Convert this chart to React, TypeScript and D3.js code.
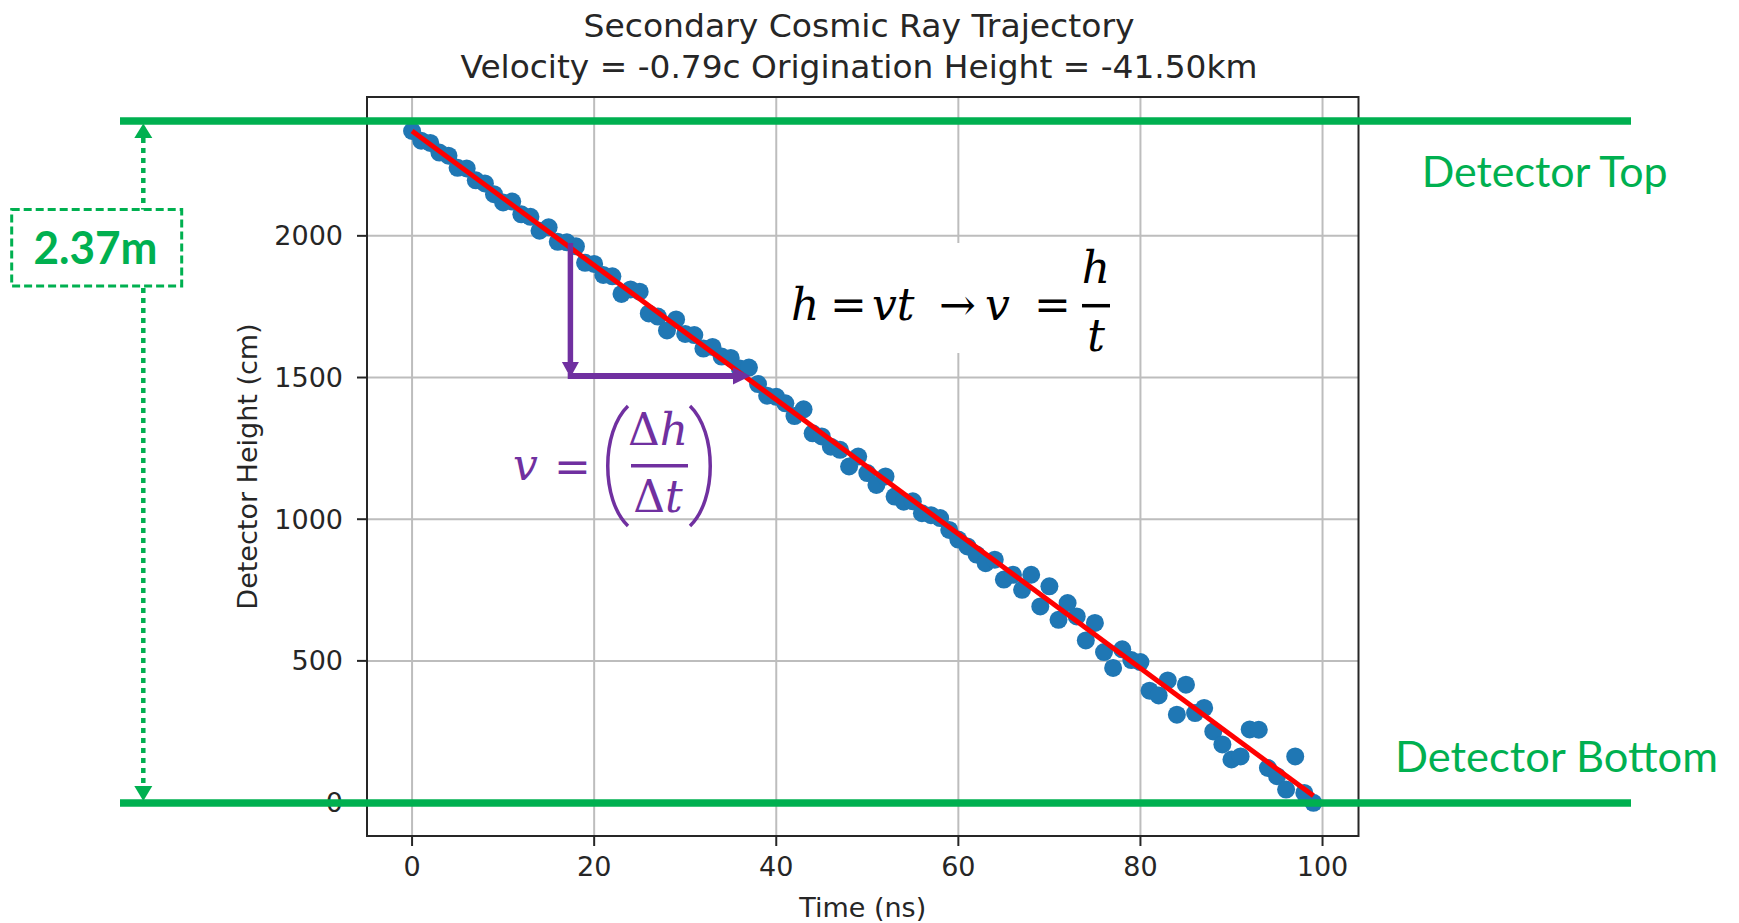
import React from 'react';
import * as d3 from 'd3';

// ---- data ----
const times: number[] = [
  0, 1, 2, 3, 4, 5, 6, 7, 8, 9, 10, 11, 12, 13, 14, 15, 16, 17, 18, 19,
  20, 21, 22, 23, 24, 25, 26, 27, 28, 29, 30, 31, 32, 33, 34, 35, 36, 37, 38, 39,
  40, 41, 42, 43, 44, 45, 46, 47, 48, 49, 50, 51, 52, 53, 54, 55, 56, 57, 58, 59,
  60, 61, 62, 63, 64, 65, 66, 67, 68, 69, 70, 71, 72, 73, 74, 75, 76, 77, 78, 79,
  80, 81, 82, 83, 84, 85, 86, 87, 88, 89, 90, 91, 92, 93, 94, 95, 96, 97, 98, 99,
];
const heights: number[] = [
  2370, 2336, 2328, 2294, 2283, 2240, 2238, 2196, 2185, 2147,
  2118, 2121, 2076, 2067, 2018, 2030, 1979, 1977, 1963, 1905,
  1901, 1862, 1857, 1795, 1811, 1803, 1726, 1715, 1666, 1705,
  1654, 1650, 1602, 1608, 1574, 1569, 1532, 1535, 1477, 1436,
  1432, 1409, 1364, 1388, 1303, 1292, 1256, 1245, 1186, 1221,
  1163, 1121, 1151, 1080, 1062, 1063, 1021, 1014, 1004, 962,
  928, 904, 875, 845, 857, 787, 804, 751, 804, 692,
  763, 645, 704, 657, 572, 634, 531, 475, 541, 503,
  496, 395, 378, 431, 310, 416, 316, 334, 251, 205,
  152, 163, 258, 257, 122, 93, 46, 163, 34, -1,
];
const fitIntercept = 2370;
const fitSlope = -23.7;
const xTicks = [0, 20, 40, 60, 80, 100];
const yTicks = [0, 500, 1000, 1500, 2000];
const xDomain: [number, number] = [-4.95, 103.95];
const yDomain: [number, number] = [-118, 2490];
const titleLines = [
  'Secondary Cosmic Ray Trajectory',
  'Velocity = -0.79c Origination Height = -41.50km',
];
const xLabel = 'Time (ns)';
const yLabel = 'Detector Height (cm)';
const annotTop = 'Detector Top';
const annotBottom = 'Detector Bottom';
const annotSpan = '2.37m';

const GREEN = '#00B050';
const PURPLE = '#7030A0';
const DOT = '#1f77b4';
const AX = '#262626';

export default function App() {
  const W = 1739;
  const H = 923;
  const plot = { left: 367, right: 1358.5, top: 97, bottom: 836 };
  const x = d3.scaleLinear().domain(xDomain).range([plot.left, plot.right]);
  const y = d3.scaleLinear().domain(yDomain).range([plot.bottom, plot.top]);
  const fitPath = d3
    .line<number>()
    .x((t) => x(t))
    .y((t) => y(fitIntercept + fitSlope * t))([times[0], times[times.length - 1]]);

  const serif = "'DejaVu Serif', 'Liberation Serif', serif";
  const sans = "'DejaVu Sans', sans-serif";
  const slide = "Lato, 'Open Sans', sans-serif";

  return (
    <svg
      width={W}
      height={H}
      viewBox={`0 0 ${W} ${H}`}
      style={{ position: 'absolute', left: 0, top: 0, background: '#fff' }}
    >
      <rect x={0} y={0} width={W} height={H} fill="#fff" />

      {/* title */}
      <text x={859} y={36.7} textAnchor="middle" fontFamily={sans} fontSize={32.5} fill={AX}
        textLength={551} lengthAdjust="spacingAndGlyphs">{titleLines[0]}</text>
      <text x={859} y={78.3} textAnchor="middle" fontFamily={sans} fontSize={32.5} fill={AX}
        textLength={797} lengthAdjust="spacingAndGlyphs">{titleLines[1]}</text>

      {/* grid */}
      <g stroke="#bdbdbd" strokeWidth={2}>
        {xTicks.map((t) => (
          <line key={'gx' + t} x1={x(t)} x2={x(t)} y1={plot.top} y2={plot.bottom} />
        ))}
        {yTicks.map((v) => (
          <line key={'gy' + v} x1={plot.left} x2={plot.right} y1={y(v)} y2={y(v)} />
        ))}
      </g>

      {/* white box behind formula */}
      <rect x={785} y={243} width={333} height={110} fill="#fff" />

      {/* scatter */}
      <g fill={DOT}>
        {times.map((t, i) => (
          <circle key={'p' + i} cx={x(t)} cy={y(heights[i])} r={9} />
        ))}
      </g>

      {/* fit */}
      <path d={fitPath || ''} fill="none" stroke="#ff0000" strokeWidth={5} />

      {/* frame */}
      <rect x={plot.left} y={plot.top} width={plot.right - plot.left} height={plot.bottom - plot.top}
        fill="none" stroke={AX} strokeWidth={2} />

      {/* ticks */}
      <g stroke={AX} strokeWidth={2}>
        {xTicks.map((t) => (
          <line key={'tx' + t} x1={x(t)} x2={x(t)} y1={plot.bottom} y2={plot.bottom + 10} />
        ))}
        {yTicks.map((v) => (
          <line key={'ty' + v} x1={plot.left - 10} x2={plot.left} y1={y(v)} y2={y(v)} />
        ))}
      </g>
      <g fontFamily={sans} fontSize={27} fill={AX}>
        {xTicks.map((t) => (
          <text key={'lx' + t} x={x(t)} y={876} textAnchor="middle">{String(t)}</text>
        ))}
        {yTicks.map((v) => (
          <text key={'ly' + v} x={343} y={y(v) + 9.5} textAnchor="end">{String(v)}</text>
        ))}
        <text x={(plot.left + plot.right) / 2} y={917} textAnchor="middle">{xLabel}</text>
        <text x={0} y={0} textAnchor="middle"
          transform={`translate(257, ${(plot.top + plot.bottom) / 2}) rotate(-90)`}>{yLabel}</text>
      </g>

      {/* black formula */}
      <g fontFamily={serif} fontSize={44} fill="#000">
        <text x={791} y={320} fontStyle="italic">h</text>
        <text x={830} y={320}>=</text>
        <text x={872} y={320} fontStyle="italic">vt</text>
        <text x={939} y={320}>→</text>
        <text x={985} y={320} fontStyle="italic">v</text>
        <text x={1034} y={320}>=</text>
        <text x={1096} y={282.7} textAnchor="middle" fontStyle="italic">h</text>
        <text x={1096} y={351} textAnchor="middle" fontStyle="italic">t</text>
      </g>
      <line x1={1082} x2={1110} y1={305.7} y2={305.7} stroke="#000" strokeWidth={3.5} />

      {/* purple formula */}
      <g fontFamily={serif} fontSize={44} fill={PURPLE}>
        <text x={513} y={480} fontStyle="italic">v</text>
        <text x={554} y={482}>=</text>
        <text x={658} y={445} textAnchor="middle">Δ<tspan fontStyle="italic">h</tspan></text>
        <text x={658} y={512} textAnchor="middle">Δ<tspan fontStyle="italic">t</tspan></text>
      </g>
      <line x1={631} x2={688} y1={465.7} y2={465.7} stroke={PURPLE} strokeWidth={3.5} />
      <path d="M 628 406 C 601 432, 601 500, 628 526" fill="none" stroke={PURPLE} strokeWidth={3.5} />
      <path d="M 690 406 C 717 432, 717 500, 690 526" fill="none" stroke={PURPLE} strokeWidth={3.5} />

      {/* purple arrows */}
      <line x1={570.4} x2={570.4} y1={243} y2={363} stroke={PURPLE} strokeWidth={5.5} />
      <path d="M 561.9 362 L 578.9 362 L 570.4 377.5 Z" fill={PURPLE} />
      <line x1={567.7} x2={734} y1={376} y2={376} stroke={PURPLE} strokeWidth={6} />
      <path d="M 733 367.5 L 733 384.5 L 750.5 376 Z" fill={PURPLE} />

      {/* green detector lines */}
      <line x1={120} x2={1631} y1={121} y2={121} stroke={GREEN} strokeWidth={7.3} />
      <line x1={120} x2={1631} y1={803} y2={803} stroke={GREEN} strokeWidth={7.3} />

      {/* dotted span arrow */}
      <line x1={143.3} x2={143.3} y1={138} y2={787} stroke={GREEN} strokeWidth={4.5} strokeDasharray="5 5" />
      <path d="M 134.3 138 L 152.3 138 L 143.3 123.5 Z" fill={GREEN} />
      <path d="M 134.3 786 L 152.3 786 L 143.3 801 Z" fill={GREEN} />
      <rect x={11.7} y={209.6} width={170} height={76.4} fill="#fff" stroke={GREEN} strokeWidth={3}
        strokeDasharray="8 4" />
      <text x={95.5} y={264} textAnchor="middle" fontFamily={slide} fontWeight="bold" fontSize={46}
        fill={GREEN} textLength={124} lengthAdjust="spacingAndGlyphs">{annotSpan}</text>

      <text x={1421.7} y={187} fontFamily={slide} fontSize={42} fill={GREEN}
        textLength={246} lengthAdjust="spacingAndGlyphs">{annotTop}</text>
      <text x={1395} y={772} fontFamily={slide} fontSize={42} fill={GREEN}
        textLength={323} lengthAdjust="spacingAndGlyphs">{annotBottom}</text>
    </svg>
  );
}
